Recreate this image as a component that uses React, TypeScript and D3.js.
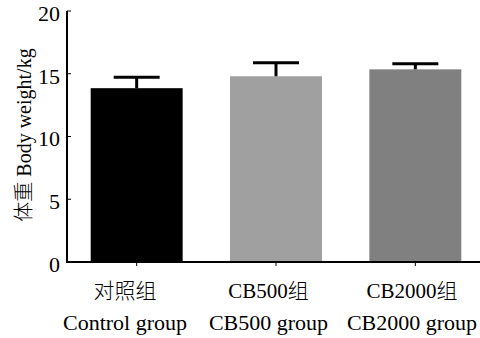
import React, { useEffect, useRef } from 'react';
import * as d3 from 'd3';

const categoriesZh = ['对照组', 'CB500组', 'CB2000组'];
const categoriesEn = ['Control group', 'CB500 group', 'CB2000 group'];
const means = [13.85, 14.8, 15.35];
const errors = [0.88, 1.08, 0.45];
const barColors = ['#000000', '#a0a0a0', '#808080'];
const yTicks = [0, 5, 10, 15, 20];

const width = 480;
const height = 338;
const fontFamily = '"Liberation Serif", "Noto Sans CJK SC", serif';

export default function App() {
  const ref = useRef<SVGSVGElement>(null);

  useEffect(() => {
    const svg = d3.select(ref.current);
    svg.selectAll('*').remove();

    const x0 = 67;
    const y = d3.scaleLinear().domain([0, 20]).range([262, 11]);
    const x = d3.scaleBand<string>()
      .domain(categoriesZh)
      .range([x0, 485])
      .paddingInner(0.34)
      .paddingOuter(0.17);
    // category labels sit a little left of the bars in the original
    const xLabel = d3.scalePoint<string>()
      .domain(categoriesZh)
      .range([125, 412]);

    // bars
    svg.selectAll('rect.bar')
      .data(means)
      .enter()
      .append('rect')
      .attr('class', 'bar')
      .attr('x', (d, i) => x(categoriesZh[i])!)
      .attr('y', d => y(d))
      .attr('width', x.bandwidth())
      .attr('height', d => y(0) - y(d))
      .attr('fill', (d, i) => barColors[i]);

    // error bars
    const eb = svg.selectAll('g.err')
      .data(means)
      .enter()
      .append('g')
      .attr('class', 'err')
      .attr('stroke', '#000')
      .attr('stroke-width', 3);
    eb.append('line')
      .attr('x1', (d, i) => x(categoriesZh[i])! + x.bandwidth() / 2)
      .attr('x2', (d, i) => x(categoriesZh[i])! + x.bandwidth() / 2)
      .attr('y1', d => y(d))
      .attr('y2', (d, i) => y(d + errors[i]));
    eb.append('line')
      .attr('x1', (d, i) => x(categoriesZh[i])! + x.bandwidth() / 4)
      .attr('x2', (d, i) => x(categoriesZh[i])! + x.bandwidth() * 3 / 4)
      .attr('y1', (d, i) => y(d + errors[i]))
      .attr('y2', (d, i) => y(d + errors[i]));

    // y axis
    svg.append('line')
      .attr('x1', x0).attr('x2', x0)
      .attr('y1', y(0)).attr('y2', y(20))
      .attr('stroke', '#000').attr('stroke-width', 2);
    svg.selectAll('line.ytick')
      .data(yTicks)
      .enter()
      .append('line')
      .attr('class', 'ytick')
      .attr('x1', x0).attr('x2', x0 + 4)
      .attr('y1', d => y(d)).attr('y2', d => y(d))
      .attr('stroke', '#000').attr('stroke-width', 1);
    svg.selectAll('text.ylab')
      .data(yTicks)
      .enter()
      .append('text')
      .attr('class', 'ylab')
      .attr('x', 60)
      .attr('y', d => y(d))
      .attr('dy', '0.45em')
      .attr('text-anchor', 'end')
      .style('font-family', fontFamily)
      .style('font-size', '22px')
      .text(d => d);

    // x axis
    svg.append('line')
      .attr('x1', x0 - 1).attr('x2', width)
      .attr('y1', y(0)).attr('y2', y(0))
      .attr('stroke', '#000').attr('stroke-width', 2);
    svg.selectAll('line.xtick')
      .data(categoriesZh)
      .enter()
      .append('line')
      .attr('class', 'xtick')
      .attr('x1', d => x(d)! + x.bandwidth() / 2)
      .attr('x2', d => x(d)! + x.bandwidth() / 2)
      .attr('y1', y(0)).attr('y2', y(0) + 4)
      .attr('stroke', '#000').attr('stroke-width', 1);

    svg.selectAll('text.xzh')
      .data(categoriesZh)
      .enter()
      .append('text')
      .attr('class', 'xzh')
      .attr('x', d => xLabel(d)!)
      .attr('y', 298)
      .attr('text-anchor', 'middle')
      .style('font-family', fontFamily)
      .style('font-size', '21px')
      .style('font-weight', 300)
      .text(d => d);
    svg.selectAll('text.xen')
      .data(categoriesEn)
      .enter()
      .append('text')
      .attr('class', 'xen')
      .attr('x', (d, i) => xLabel(categoriesZh[i])!)
      .attr('y', 330)
      .attr('text-anchor', 'middle')
      .style('font-family', fontFamily)
      .style('font-size', '22px')
      .text(d => d);

    // y label
    svg.append('text')
      .attr('transform', 'translate(31, 135) rotate(-90)')
      .attr('text-anchor', 'middle')
      .style('font-family', fontFamily)
      .style('font-size', '20px')
      .style('font-weight', 300)
      .text('体重 Body weight/kg');
  }, []);

  return (
    <svg
      ref={ref}
      width={width}
      height={height}
      style={{ position: 'absolute', left: 0, top: 0, background: '#fff' }}
    />
  );
}
